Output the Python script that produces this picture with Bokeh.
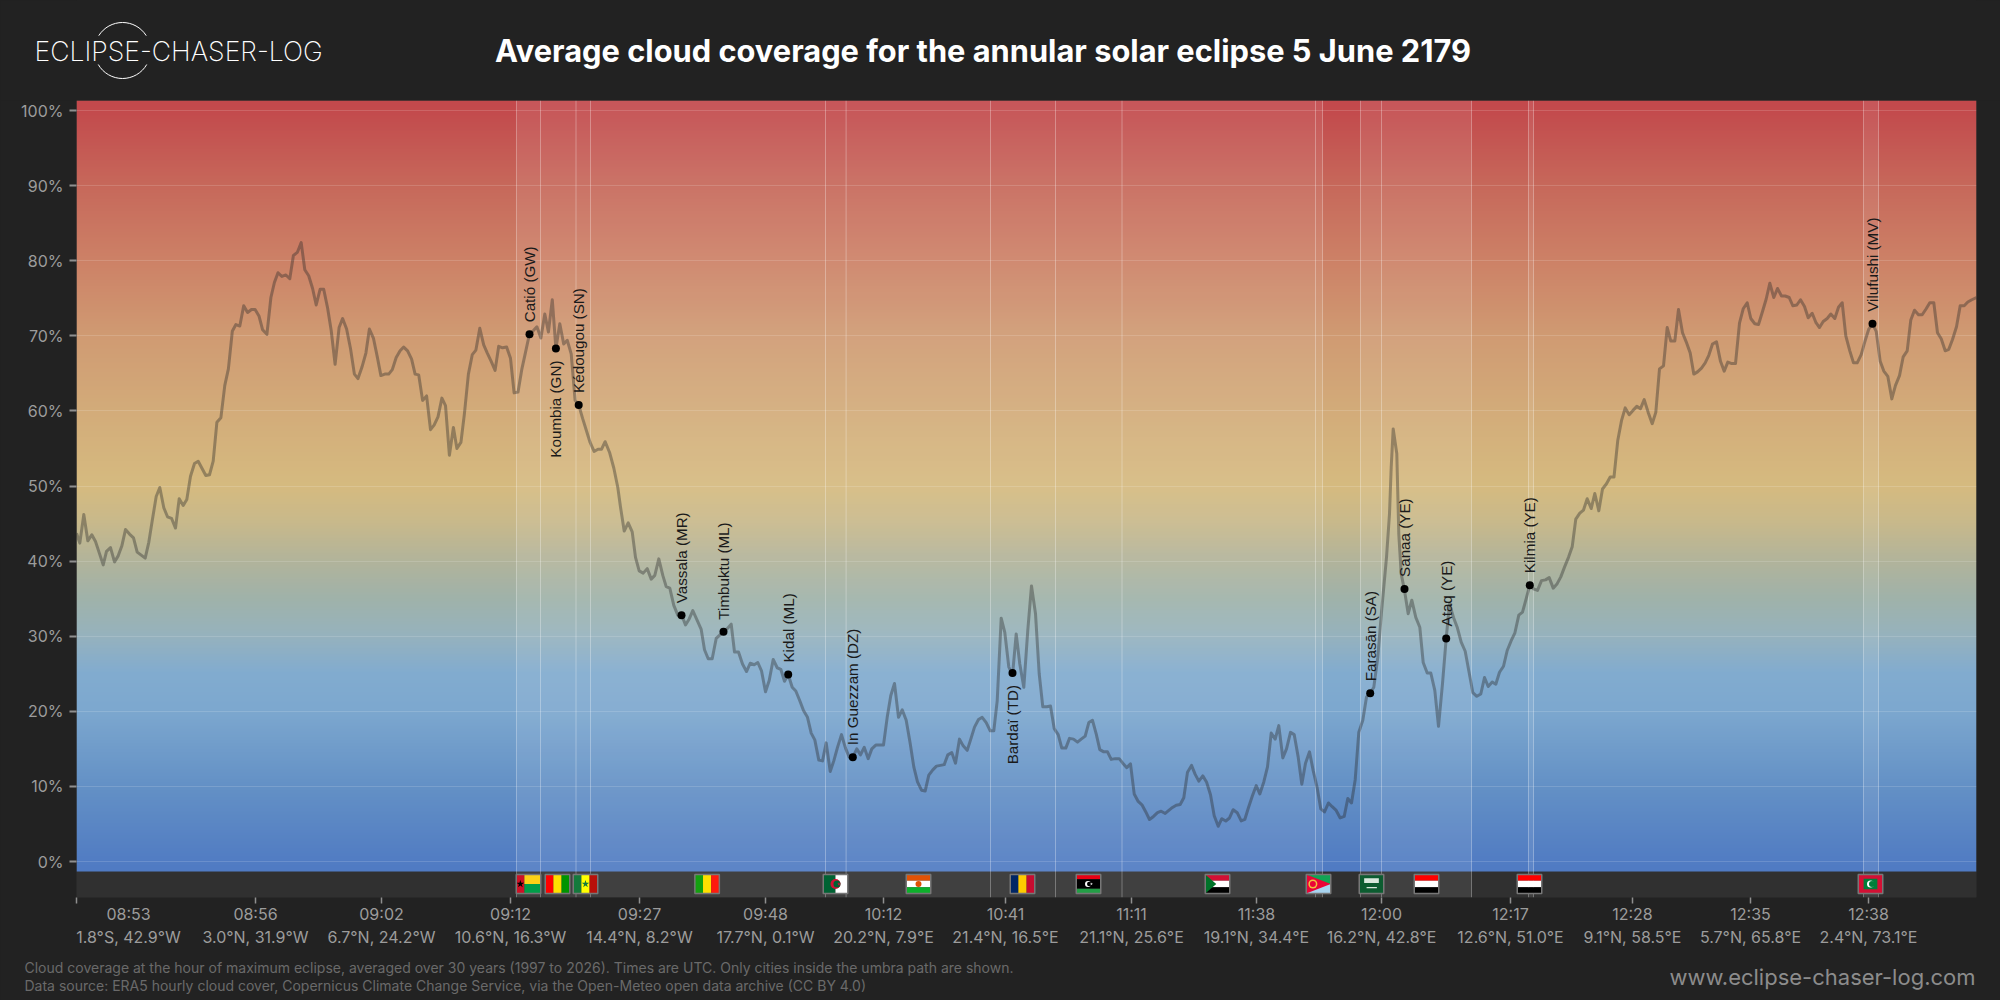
import numpy as np
from bokeh.embed import file_html
from bokeh.layouts import column
from bokeh.models import FixedTicker, LinearAxis, PrintfTickFormatter, Range1d
from bokeh.plotting import figure
from bokeh.resources import INLINE

# ---------- data ----------
track_pos = [0,3.3,7.3,11.3,15.3,19,23,26.7,30,34,38,41.7,45.3,49,53,57,60.7,64.7,68.7,72.3,76,79.7,83.3,87.3,91,95,99,102.7,106.7,110.3,114,118,121.7,125.3,129.3,133,136.7,140.4,144.4,148.3,151.9,155.8,159.4,163.3,167.2,171.1,175,178.6,182.6,186.1,190.4,194.4,197.9,201.5,205.4,209.4,213.3,216.9,220.8,224.7,228.3,232.2,236.1,239.7,243.6,247.2,251.1,254.7,258.6,262.6,266.1,270.1,274,277.9,281.5,285.4,289.4,292.9,296.9,300.8,304.4,308.3,312.2,315.8,319.7,323.6,327.2,331.1,335.1,338.6,342.2,346.1,350.1,354,357.6,361.5,365.4,369,372.9,376.9,380.4,384.4,387.9,391.9,395.8,399.4,403.3,407.2,410.8,414.7,418.6,422.2,426.1,430.1,434,437.6,441.5,445.4,449,452.9,456.9,460.4,464.4,468.3,471.9,475.8,479.4,483.3,487.2,490.8,494.7,498.6,502.2,506.1,510.1,513.6,517.6,521.5,525.1,528.6,533,537.3,541.3,544,547.7,551.7,555.7,559,562.7,566.7,570.7,574.7,578.3,582.3,586.3,589.7,593.3,597.3,601.3,605,609,612.7,616.3,620.7,624.7,628,631.7,635.7,639.7,647,650.7,654.7,658,662,666,670,673.7,677.7,681.3,685,689,692.7,696.7,700.7,704.3,708,711.7,715.7,719.3,723.3,727,731,734.7,738.3,742.3,746,749.7,753.7,757.3,761,765,769,772.7,776.3,780.3,784,787.7,791.7,795.3,799.3,803,807,810.7,814.3,818,822,825.7,829.7,833.7,837.3,841,845,848.7,852.3,856.3,860,864,867.7,871.3,875.3,879,883,886.7,890.7,894.3,898,902,905.7,909.7,913.7,917.3,920.7,924.7,928.3,932.3,936,939.7,943.3,947.3,951.3,955,959,962.7,966.3,970.3,974,977.7,981.7,985.3,989.3,993,997,1001,1004.7,1008.7,1012.3,1016,1019.7,1023.3,1027.3,1031,1034.7,1038.7,1042.7,1046.3,1050.3,1054,1057.7,1061.7,1065.7,1069.3,1073,1077,1081,1084.7,1088.7,1092.3,1096,1099.7,1103.7,1107.3,1111,1115,1118.7,1122.3,1126.3,1130,1134,1137.7,1141.7,1145.3,1149.3,1153,1156.7,1160.7,1164.7,1168.3,1172,1176,1179.7,1183.3,1187.3,1191,1194.7,1198.7,1202.3,1206.3,1210,1214,1217.7,1221.7,1225.3,1229,1233,1236.7,1240.7,1244.3,1248,1252,1255.7,1259.7,1263.7,1267.7,1271.3,1275,1278.7,1282.3,1286.3,1290,1293.7,1297.3,1301.3,1305,1310,1313,1314.7,1316.7,1320.3,1322.3,1324.7,1328,1331.7,1335.3,1339.3,1343.3,1346.7,1350.7,1354.3,1358.3,1362,1366,1369.7,1373,1377,1380.7,1384.7,1388.7,1392.3,1396.3,1400.3,1404.3,1408,1411.7,1415.7,1419.3,1423,1427,1430.7,1434.7,1438.3,1442.3,1446,1449.7,1453.3,1457,1461,1465,1469,1472.7,1476.7,1480.7,1484.3,1488,1492,1495.7,1499.3,1503.3,1507,1510.7,1514.7,1518.3,1522.3,1526,1530,1533.7,1537.5,1541.3,1545,1548.7,1552.7,1556.7,1560.3,1564,1567.7,1571.7,1575.7,1579.3,1583,1587,1590.7,1594.3,1598.3,1602,1606,1609.7,1613.7,1617.3,1621,1625,1628.7,1632.3,1636,1640,1644,1647.7,1651.3,1655.3,1659,1663,1666.7,1670.7,1674.3,1678.3,1682,1685.7,1689.7,1693.3,1697.3,1701,1705,1708.7,1712.7,1716.3,1720.3,1724,1728,1731.7,1735.7,1739.3,1743,1746.7,1750.7,1754.3,1758.3,1762,1765.7,1769.3,1773.3,1777,1780.7,1784.7,1788.3,1792.3,1796,1799.7,1803.7,1807.3,1811.3,1815.3,1819,1823,1826.7,1830.7,1834.3,1838,1842,1845.7,1849.7,1853.3,1857.3,1861,1864.7,1868.7,1872.3,1876,1880,1883.7,1887.7,1891.3,1895.3,1900]
cloud_cover = [43.7,42.4,46.2,42.7,43.5,42.6,41.0,39.5,41.3,41.8,39.9,40.7,42.0,44.2,43.6,43.1,41.2,40.8,40.4,42.5,45.6,48.6,49.8,47.1,45.9,45.7,44.4,48.3,47.4,48.2,51.3,53.0,53.3,52.4,51.4,51.5,53.3,58.5,59.1,63.4,65.6,70.6,71.5,71.3,74.0,73.1,73.5,73.5,72.6,70.8,70.2,75.1,77.1,78.4,77.9,78.1,77.6,80.7,81.1,82.4,78.8,78.0,76.3,74.1,76.2,76.2,73.7,70.7,66.2,71.1,72.3,70.9,68.3,64.9,64.3,65.8,67.7,70.9,69.7,67.2,64.7,64.9,64.9,65.5,67.1,68.0,68.5,68.0,66.9,64.9,64.8,61.4,62.0,57.5,58.1,59.2,61.7,60.7,54.1,57.8,55.0,55.8,59.6,64.9,67.5,68.1,71.0,68.8,67.7,66.6,65.4,68.6,68.4,68.5,67.0,62.4,62.5,65.6,67.8,70.2,70.7,71.2,69.7,72.9,70.5,74.8,68.3,71.6,68.9,69.4,67.6,61.4,60.8,59.0,57.3,55.8,54.6,54.9,54.9,55.9,54.5,52.4,49.8,47.2,44.0,45.1,43.9,40.5,38.7,38.4,39.0,37.6,38.1,40.3,38.1,36.6,36.4,34.1,32.8,32.9,31.5,32.3,33.4,32.1,30.9,28.2,27.0,27.0,29.7,30.6,31.0,31.6,27.9,27.9,26.3,25.3,26.4,26.2,26.5,25.4,22.6,24.1,26.9,25.8,25.6,24.0,24.9,23.2,22.7,21.4,20.1,19.2,17.1,16.2,13.5,13.4,15.8,12.0,13.4,15.2,16.9,15.1,13.9,13.9,15.0,14.2,15.2,13.7,15.0,15.5,15.5,15.5,19.2,22.1,23.7,19.2,20.2,18.8,15.7,12.6,10.6,9.5,9.4,11.5,12.2,12.7,12.8,12.9,14.2,14.5,13.1,16.3,15.4,14.8,16.3,17.9,18.9,19.2,18.5,17.4,17.4,21.4,32.4,30.5,25.9,24.8,30.3,26.3,23.2,30.8,36.7,33.0,25.0,20.6,20.6,20.7,17.7,16.9,15.1,15.1,16.4,16.3,15.9,16.3,16.7,18.5,18.8,17.0,14.9,14.6,14.6,13.6,13.7,13.7,13.1,12.5,13.0,9.0,8.0,7.5,6.6,5.6,6.0,6.5,6.7,6.4,6.8,7.2,7.5,7.6,8.5,11.9,12.8,11.6,10.7,11.4,10.6,8.9,6.1,4.7,5.7,5.4,5.8,6.9,6.5,5.4,5.6,7.2,8.8,10.1,9.0,10.6,12.6,17.1,16.3,18.1,13.8,15.0,17.2,16.9,13.9,10.3,13.1,14.6,12.1,9.8,7.0,6.6,7.8,7.3,6.8,5.8,6.0,8.4,7.8,10.9,17.2,18.8,21.9,22.4,23.2,27.2,33.2,40.5,46.3,52.5,57.6,54.3,43.6,38.3,36.1,33.0,34.8,32.5,31.2,26.5,25.1,25.1,22.8,18.0,23.7,29.7,34.3,32.5,31.2,29.2,28.0,25.4,22.5,22.0,22.3,24.5,23.3,23.9,23.6,25.2,26.0,28.1,29.4,30.4,32.8,33.2,35.0,36.8,36.3,36.1,37.4,37.5,37.8,36.4,37.0,37.9,39.2,40.5,41.9,45.6,46.4,46.8,48.3,47.0,49.0,46.7,49.6,50.3,51.2,51.2,56.1,58.7,60.4,59.5,60.1,60.6,60.3,61.5,59.8,58.3,59.8,65.6,66.0,71.1,69.3,69.3,73.5,70.4,69.2,67.7,64.9,65.2,65.7,66.4,67.4,68.9,69.2,66.6,65.3,66.5,66.3,66.3,71.7,73.6,74.4,72.3,71.6,71.5,73.1,74.9,77.0,75.1,76.3,75.3,75.3,75.1,74.0,74.1,74.8,73.9,72.4,73.0,71.8,71.1,71.9,72.3,72.9,72.3,73.8,74.4,70.0,68.0,66.4,66.4,67.5,69.2,70.9,71.6,70.6,66.6,65.3,64.6,61.6,63.4,64.7,67.2,68.0,72.1,73.4,72.8,72.8,73.6,74.4,74.4,70.4,69.6,68.0,68.2,69.5,71.2,74.0,74.0,74.5,74.8,75.1]

city_names = ["Catió (GW)","Koumbia (GN)","Kédougou (SN)","Vassala (MR)","Timbuktu (ML)","Kidal (ML)","In Guezzam (DZ)","Bardaï (TD)","Farasān (SA)","Sanaa (YE)","Ataq (YE)","Kilmia (YE)","Vilufushi (MV)"]
city_pos = [453,479.4,502.2,605,647,711.7,776.3,936,1293.7,1328,1369.7,1453.3,1796]
city_cover = [70.2,68.3,60.8,32.8,30.6,24.9,13.9,25.1,22.4,36.3,29.7,36.8,71.6]
city_below = [False,True,False,False,False,False,False,True,False,False,False,False,False]

band_starts = [440,1284,1452,1787]
band_ends = [1246,1395,1457,1802]
border_pos = [440,464,499.5,514,749,769.6,914,979,1045.5,1239,1246,1284,1305,1395,1452,1457,1787,1802]

tick_pos = [0,179,305,434,563,689,807,929,1055,1180,1305,1434,1556,1674,1792]
tick_times = ["08:53","08:56","09:02","09:12","09:27","09:48","10:12","10:41","11:11","11:38","12:00","12:17","12:28","12:35","12:38"]
tick_places = ["1.8°S, 42.9°W","3.0°N, 31.9°W","6.7°N, 24.2°W","10.6°N, 16.3°W","14.4°N, 8.2°W","17.7°N, 0.1°W","20.2°N, 7.9°E","21.4°N, 16.5°E","21.1°N, 25.6°E","19.1°N, 34.4°E","16.2°N, 42.8°E","12.6°N, 51.0°E","9.1°N, 58.5°E","5.7°N, 65.8°E","2.4°N, 73.1°E"]
y_ticks = [0,10,20,30,40,50,60,70,80,90,100]

flag_codes = ["GW","GN","SN","ML","DZ","NE","TD","LY","SD","ER","SA","YE","YE","MV"]
flag_pos = [452,481,509,630.6,759,842,946,1012,1141,1242,1295,1350,1453,1794]

title_text = "Average cloud coverage for the annular solar eclipse 5 June 2179"
logo_text = "ECLIPSE-CHASER-LOG"
note_1 = "Cloud coverage at the hour of maximum eclipse, averaged over 30 years (1997 to 2026). Times are UTC. Only cities inside the umbra path are shown."
note_2 = "Data source: ERA5 hourly cloud cover, Copernicus Climate Change Service, via the Open-Meteo open data archive (CC BY 4.0)"
site_url = "www.eclipse-chaser-log.com"

# ---------- styling ----------
BG = "#222222"
UI = "Inter"
Y_TOP, Y_BOTTOM, STRIP_TOP = 101.33, -4.79, -1.33
GRAD_PCT = [-1.33,0,10,20,25,30,35,40,45,50,60,70,80,90,100,101.33]
GRAD_RGB = [(80,123,195),(82,125,195),(100,145,198),(125,168,207),(130,172,208),(150,178,190),(160,178,170),(178,180,155),(200,185,140),(214,187,128),(211,172,122),(208,155,115),(205,130,103),(199,105,91),(195,75,77),(195,73,76)]

# ---------- header ----------
head = figure(width=2000, height=100, x_range=Range1d(76, 1976), y_range=Range1d(100, 0),
              output_backend="svg", toolbar_location=None,
              min_border_left=76, min_border_right=24, min_border_top=0, min_border_bottom=0,
              background_fill_color=BG, border_fill_color=BG, outline_line_color=None)
head.axis.visible = False
head.grid.visible = False
head.arc(x=[122,122], y=[50,50], radius=28, start_angle=[np.radians(32),np.radians(210)],
         end_angle=[np.radians(148),np.radians(330)], line_color="#ffffff", line_width=1, level="annotation")
head.text(x=[76], y=[50], x_offset=-42, text=[logo_text], text_font={"value":"Inter ExtraLight"}, text_font_size="26.6px",
          text_color="#ffffff", text_align="left", text_baseline="middle", level="annotation")
head.text(x=[982.5], y=[50], text=[title_text], text_font={"value":UI}, text_font_style="bold",
          text_font_size="30.8px", text_color="#ffffff", text_align="center", text_baseline="middle")

# ---------- main chart ----------
p = figure(width=2000, height=900, x_range=Range1d(0, 1900), y_range=Range1d(Y_BOTTOM, Y_TOP),
           output_backend="svg", toolbar_location=None,
           min_border_left=76, min_border_right=24, min_border_top=0, min_border_bottom=103,
           background_fill_color="#303030", border_fill_color=BG, outline_line_color=None)

rows = 512
levels = np.linspace(STRIP_TOP, Y_TOP, rows)
rgba = np.zeros((rows, 2, 4), dtype=np.uint8)
for c in range(3):
    rgba[:, :, c] = np.interp(levels, GRAD_PCT, [s[c] for s in GRAD_RGB])[:, None]
rgba[:, :, 3] = 255
img = rgba.view(np.uint32).reshape(rows, 2)
p.image_rgba(image=[img], x=0, y=STRIP_TOP, dw=1900, dh=Y_TOP-STRIP_TOP, level="image")

p.xgrid.visible = False
p.ygrid.ticker = FixedTicker(ticks=y_ticks)
p.ygrid.grid_line_color = "#ffffff"
p.ygrid.grid_line_alpha = 0.15
p.ygrid.grid_line_width = 1

# country bands
p.quad(left=band_starts, right=band_ends, bottom=Y_BOTTOM, top=Y_TOP,
       fill_color="#ffffff", fill_alpha=0.08, line_color=None)
p.segment(x0=border_pos, x1=border_pos, y0=Y_BOTTOM, y1=Y_TOP, line_color="#ffffff", line_alpha=0.3, line_width=1)

# series
p.line(track_pos, cloud_cover, line_color="#282828", line_alpha=0.38, line_width=3, line_join="round")

# cities
p.scatter(city_pos, city_cover, size=8, marker="circle", fill_color="#000000", line_color=None)
for below in (False, True):
    sel = [i for i, b in enumerate(city_below) if b == below]
    p.text(x=[city_pos[i] for i in sel], y=[city_cover[i] for i in sel], text=[city_names[i] for i in sel],
           angle=np.pi/2, text_font={"value":"Liberation Sans"}, text_font_size="15.2px", text_color="#1a1a1a",
           text_align="right" if below else "left", text_baseline="middle", y_offset=12 if below else -12)

# flags
FW = 24.5
FY0, FY1 = -1.73, -4.26
qx0, qx1, qy0, qy1, qc = [], [], [], [], []
tx, ty, tc = [], [], []
ex, ey, ec, es, em = [], [], [], [], []

def rect(cx, a, b, c, d, col):
    qx0.append(cx-FW/2+a*FW); qx1.append(cx-FW/2+b*FW)
    qy0.append(FY1+c*(FY0-FY1)); qy1.append(FY1+d*(FY0-FY1)); qc.append(col)

def tri(cx, pts, col):
    tx.append([cx-FW/2+q[0]*FW for q in pts])
    ty.append([FY1+q[1]*(FY0-FY1) for q in pts])
    tc.append(col)

def mark(cx, fx, fy, col, size, marker="circle"):
    ex.append(cx-FW/2+fx*FW); ey.append(FY1+fy*(FY0-FY1)); ec.append(col); es.append(size); em.append(marker)

def vstripes(cx, cols):
    for i, col in enumerate(cols):
        rect(cx, i/3, (i+1)/3, 0, 1, col)

def hstripes(cx, cols):
    for i, col in enumerate(cols):
        rect(cx, 0, 1, 1-(i+1)/3, 1-i/3, col)

for code, cx in zip(flag_codes, flag_pos):
    if code == "GW":
        rect(cx, 0, 1/3, 0, 1, "#ce1126"); rect(cx, 1/3, 1, .5, 1, "#fcd116"); rect(cx, 1/3, 1, 0, .5, "#009e49")
        mark(cx, 1/6, .5, "#000000", 8, "star")
    elif code == "GN":
        vstripes(cx, ["#ff0000", "#ffdf00", "#009400"])
    elif code == "SN":
        vstripes(cx, ["#147a3c", "#ffff00", "#b81009"])
        mark(cx, .5, .5, "#147a3c", 8, "star")
    elif code == "ML":
        vstripes(cx, ["#14a010", "#ffe000", "#ff1a0d"])
    elif code == "DZ":
        rect(cx, 0, .5, 0, 1, "#006233"); rect(cx, .5, 1, 0, 1, "#ffffff")
        mark(cx, .5, .5, "#d21034", 10); mark(cx, .56, .5, "#006233", 7); rect(cx, .5, .62, .3, .7, "#ffffff")
        mark(cx, .64, .5, "#d21034", 4, "star")
    elif code == "NE":
        hstripes(cx, ["#e05206", "#ffffff", "#0db02b"])
        mark(cx, .5, .5, "#e05206", 6)
    elif code == "TD":
        vstripes(cx, ["#002664", "#fecb00", "#c60c30"])
    elif code == "LY":
        rect(cx, 0, 1, .75, 1, "#e70013"); rect(cx, 0, 1, .25, .75, "#000000"); rect(cx, 0, 1, 0, .25, "#239e46")
        mark(cx, .48, .5, "#ffffff", 6); mark(cx, .53, .5, "#000000", 4.5); mark(cx, .62, .5, "#ffffff", 3, "star")
    elif code == "SD":
        hstripes(cx, ["#d21034", "#ffffff", "#000000"])
        tri(cx, [(0, 0), (0, 1), (.45, .5)], "#007229")
    elif code == "ER":
        rect(cx, 0, 1, .5, 1, "#12a454"); rect(cx, 0, 1, 0, .5, "#a8d4f0")
        tri(cx, [(0, 0), (0, 1), (1, .5)], "#ea0437")
        mark(cx, .27, .5, "#f0c040", 9); mark(cx, .27, .5, "#ea0437", 6)
    elif code == "SA":
        rect(cx, 0, 1, 0, 1, "#0c5c30"); rect(cx, .2, .8, .55, .8, "#d8e8dc"); rect(cx, .3, .72, .28, .34, "#d8e8dc")
    elif code == "YE":
        hstripes(cx, ["#ff0000", "#ffffff", "#000000"])
    elif code == "MV":
        rect(cx, 0, 1, 0, 1, "#d21034"); rect(cx, .22, .78, .22, .78, "#007e3a")
        mark(cx, .5, .5, "#ffffff", 7); mark(cx, .56, .5, "#007e3a", 6)

p.quad(left=qx0, right=qx1, bottom=qy0, top=qy1, fill_color=qc, line_color=None)
p.patches(xs=tx, ys=ty, fill_color=tc, line_color=None)
p.scatter(ex, ey, size=es, marker=em, fill_color=ec, line_color=None)
p.quad(left=[c-FW/2 for c in flag_pos], right=[c+FW/2 for c in flag_pos], bottom=FY1, top=FY0,
       fill_color=None, line_color="#777777", line_width=1.5)

# axes
yax = p.yaxis[0]
yax.ticker = FixedTicker(ticks=y_ticks)
yax.formatter = PrintfTickFormatter(format="%d%%")
yax.axis_line_color = None
yax.major_tick_line_color = "#8f8f8f"
yax.major_tick_line_width = 2
yax.major_tick_out = 7
yax.major_tick_in = 0
yax.minor_tick_line_color = None
yax.major_label_text_color = "#9c9c9c"
yax.major_label_text_font = UI
yax.major_label_text_font_size = "16px"
yax.major_label_standoff = 6

xax = p.xaxis[0]
xax.ticker = FixedTicker(ticks=tick_pos)
xax.major_label_overrides = {t: ("" if t == tick_pos[0] else a) for t, a in zip(tick_pos, tick_times)}
xax.axis_line_color = None
xax.major_tick_line_color = "#8f8f8f"
xax.major_tick_line_width = 1.5
xax.major_tick_out = 6
xax.major_tick_in = 0
xax.minor_tick_line_color = None
xax.major_label_text_color = "#9c9c9c"
xax.major_label_text_font = UI
xax.major_label_text_font_size = "16px"
xax.major_label_standoff = 0

xax2 = LinearAxis(ticker=FixedTicker(ticks=tick_pos),
                  major_label_overrides={t: ("" if t == tick_pos[0] else b) for t, b in zip(tick_pos, tick_places)},
                  axis_line_color=None, major_tick_line_color=None, minor_tick_line_color=None,
                  major_tick_out=0, major_tick_in=0, major_label_standoff=0,
                  major_label_text_color="#9c9c9c", major_label_text_font=UI, major_label_text_font_size="16px")
p.add_layout(xax2, "below")

# texts below the frame: anchored on the frame's lower edge and offset downwards
def under(txt, x, dx, dy, col, size, align):
    p.text(x=[x], y=[Y_BOTTOM], text=[txt], x_offset=dx, y_offset=dy, text_color=col, text_font={"value":UI},
           text_font_size=size, text_align=align, text_baseline="middle", level="annotation")

under(tick_times[0], 52, 0, 16, "#9c9c9c", "16px", "center")
under(tick_places[0], 52, 0, 39, "#9c9c9c", "16px", "center")
under(note_1, 0, -52, 70, "#6a6a6a", "14px", "left")
under(note_2, 0, -52, 88, "#6a6a6a", "14px", "left")
under(site_url, 1899, 0, 79, "#8c8c8c", "22px", "right")

page = file_html(column(head, p, spacing=0), INLINE)
page = page.replace("<head>", "<head><style>html,body{background:#222222}</style>", 1)
open("out.html", "w").write(page)
